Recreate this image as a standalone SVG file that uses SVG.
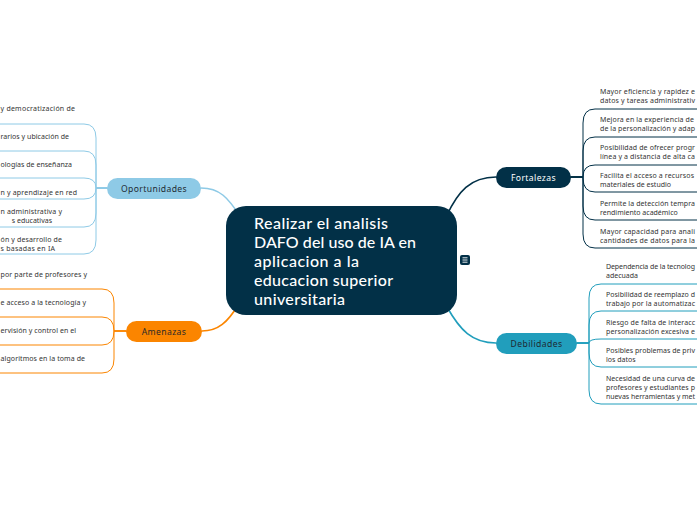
<svg xmlns="http://www.w3.org/2000/svg" width="697" height="520" viewBox="0 0 697 520">
<style>
.c{fill:none;stroke-linecap:round;stroke-linejoin:round}
.op{stroke:#8ECAE6;stroke-width:1}
.am{stroke:#FB8500;stroke-width:1}
.fo{stroke:#023047;stroke-width:1}
.de{stroke:#219EBC;stroke-width:1}
.main{stroke-width:1.6}
.t{font-family:"Noto Sans","Liberation Sans",sans-serif;font-size:7px;fill:#333333}
.lab{font-family:"Noto Sans","Liberation Sans",sans-serif;font-size:8.6px;text-anchor:middle;letter-spacing:0.4px}
.ctr{font-family:Lato,"Noto Sans",sans-serif;font-size:16px;fill:#ffffff;font-weight:500}
</style>
<rect width="697" height="520" fill="#ffffff"/>
<g id="connectors">
<path class="c op main" d="M201,188 C220,188 228,198 240,216"/>
<path class="c am main" d="M202,331 C218,331 228,322 238,305"/>
<path class="c fo main" d="M496,177 C470,177 458,192 447,215"/>
<path class="c de main" d="M496,343 C472,343 460,330 447,307"/>
<path class="c op" d="M107,188 H96 V138 Q96,124 84,124 H0"/>
<path class="c op" d="M107,188 H96 V165 Q96,151 84,151 H0"/>
<path class="c op" d="M107,188 H96 Q96,178 84,178 H0"/>
<path class="c op" d="M107,188 H96 Q96,199 84,199 H0"/>
<path class="c op" d="M107,188 H96 V213 Q96,227 84,227 H0"/>
<path class="c op" d="M107,188 H96 V240 Q96,254 84,254 H0"/>
<path class="c am" d="M126,331 H114 V303 Q114,289 102,289 H0"/>
<path class="c am" d="M126,331 H114 Q114,317 102,317 H0"/>
<path class="c am" d="M126,331 H114 Q114,345 102,345 H0"/>
<path class="c am" d="M126,331 H114 V359 Q114,373 102,373 H0"/>
<path class="c fo" d="M571,177 H583 V123 Q583,109 595,109 H697"/>
<path class="c fo" d="M571,177 H583 V151 Q583,137 595,137 H697"/>
<path class="c fo" d="M571,177 H583 Q583,165 595,165 H697"/>
<path class="c fo" d="M571,177 H583 V178 Q583,192 595,192 H697"/>
<path class="c fo" d="M571,177 H583 V206 Q583,220 595,220 H697"/>
<path class="c fo" d="M571,177 H583 V234 Q583,248 595,248 H697"/>
<path class="c de" d="M577,343 H589 V298 Q589,284 601,284 H697"/>
<path class="c de" d="M577,343 H589 V325 Q589,311 601,311 H697"/>
<path class="c de" d="M577,343 H589 Q589,339 601,339 H697"/>
<path class="c de" d="M577,343 H589 V353 Q589,367 601,367 H697"/>
<path class="c de" d="M577,343 H589 V390 Q589,404 601,404 H697"/>
</g>
<g id="center">
<rect x="226" y="206" width="231" height="109" rx="20" fill="#023047"/>
<text class="ctr" x="254" y="228.5" textLength="134" lengthAdjust="spacing">Realizar el analisis</text>
<text class="ctr" x="254" y="247.5" textLength="162" lengthAdjust="spacing">DAFO del uso de IA en</text>
<text class="ctr" x="254" y="266.5" textLength="105" lengthAdjust="spacing">aplicacion a la</text>
<text class="ctr" x="254" y="285.5" textLength="139" lengthAdjust="spacing">educacion superior</text>
<text class="ctr" x="254" y="304.5" textLength="91" lengthAdjust="spacing">universitaria</text>
</g>
<g id="note-icon">
<rect x="460" y="255" width="10" height="10" rx="2" fill="#023047"/>
<path d="M462.5,257.8 H467.5 M462.5,260 H467.5 M462.5,262.2 H467.5" stroke="#ffffff" stroke-width="0.9"/>
</g>
<g id="oportunidades">
<rect x="107" y="178" width="94" height="21" rx="10.5" fill="#8ECAE6"/>
<text class="lab" x="154" y="191.5" fill="#1e2a33">Oportunidades</text>
</g>
<g id="amenazas">
<rect x="126" y="321" width="76" height="21" rx="10.5" fill="#FB8500"/>
<text class="lab" x="164" y="334.5" fill="#2a2a2a">Amenazas</text>
</g>
<g id="fortalezas">
<rect x="496" y="167" width="75" height="21" rx="10.5" fill="#023047"/>
<text class="lab" x="533.5" y="180.5" fill="#ffffff">Fortalezas</text>
</g>
<g id="debilidades">
<rect x="496" y="333" width="81" height="21" rx="10.5" fill="#219EBC"/>
<text class="lab" x="536.5" y="346.5" fill="#1e2a33">Debilidades</text>
</g>
<g id="op-1"><text class="t" x="0.5" y="110.5" textLength="74.5" lengthAdjust="spacing">y democratización de</text></g>
<g id="op-2"><text class="t" x="0.5" y="138.5" textLength="68.5" lengthAdjust="spacing">rarios y ubicación de</text></g>
<g id="op-3"><text class="t" x="0.5" y="166.5" textLength="71.5" lengthAdjust="spacing">ologías de enseñanza</text></g>
<g id="op-4"><text class="t" x="0.5" y="194.5" textLength="76.5" lengthAdjust="spacing">n y aprendizaje en red</text></g>
<g id="op-5"><text class="t" x="0.5" y="213.5" textLength="61.5" lengthAdjust="spacing">n administrativa y</text><text class="t" x="52" y="222.5" text-anchor="end">s educativas</text></g>
<g id="op-6"><text class="t" x="0.5" y="241.5" textLength="61.5" lengthAdjust="spacing">ón y desarrollo de</text><text class="t" x="0.5" y="250.5" textLength="54.5" lengthAdjust="spacing">s basadas en IA</text></g>
<g id="am-1"><text class="t" x="0.5" y="276.5" textLength="86.5" lengthAdjust="spacing">por parte de profesores y</text></g>
<g id="am-2"><text class="t" x="0.5" y="304.5" textLength="85.5" lengthAdjust="spacing">e acceso a la tecnología y</text></g>
<g id="am-3"><text class="t" x="0.5" y="332.5" textLength="75.5" lengthAdjust="spacing">ervisión y control en el</text></g>
<g id="am-4"><text class="t" x="0.5" y="360.5" textLength="84.5" lengthAdjust="spacing">algoritmos en la toma de</text></g>
<g id="fo-1"><text class="t" x="600" y="93.5" textLength="95" lengthAdjust="spacing">Mayor eficiencia y rapidez e</text><text class="t" x="600" y="103" textLength="95" lengthAdjust="spacing">datos y tareas administrativ</text></g>
<g id="fo-2"><text class="t" x="600" y="121.5" textLength="94" lengthAdjust="spacing">Mejora en la experiencia de</text><text class="t" x="600" y="131" textLength="95" lengthAdjust="spacing">de la personalización y adap</text></g>
<g id="fo-3"><text class="t" x="600" y="149.5" textLength="95" lengthAdjust="spacing">Posibilidad de ofrecer progr</text><text class="t" x="600" y="159" textLength="95" lengthAdjust="spacing">línea y a distancia de alta ca</text></g>
<g id="fo-4"><text class="t" x="600" y="177.5" textLength="94" lengthAdjust="spacing">Facilita el acceso a recursos</text><text class="t" x="600" y="186.5">materiales de estudio</text></g>
<g id="fo-5"><text class="t" x="600" y="205.5" textLength="95" lengthAdjust="spacing">Permite la detección tempra</text><text class="t" x="600" y="214.5">rendimiento académico</text></g>
<g id="fo-6"><text class="t" x="600" y="233.5" textLength="95" lengthAdjust="spacing">Mayor capacidad para anali</text><text class="t" x="600" y="243" textLength="95" lengthAdjust="spacing">cantidades de datos para la</text></g>
<g id="de-1"><text class="t" x="606" y="269" textLength="89" lengthAdjust="spacing">Dependencia de la tecnolog</text><text class="t" x="606" y="278">adecuada</text></g>
<g id="de-2"><text class="t" x="606" y="296.5" textLength="89" lengthAdjust="spacing">Posibilidad de reemplazo d</text><text class="t" x="606" y="305.5" textLength="89" lengthAdjust="spacing">trabajo por la automatizac</text></g>
<g id="de-3"><text class="t" x="606" y="324.5" textLength="89" lengthAdjust="spacing">Riesgo de falta de interacc</text><text class="t" x="606" y="333.5" textLength="89" lengthAdjust="spacing">personalización excesiva e</text></g>
<g id="de-4"><text class="t" x="606" y="352.5" textLength="89" lengthAdjust="spacing">Posibles problemas de priv</text><text class="t" x="606" y="361.5">los datos</text></g>
<g id="de-5"><text class="t" x="606" y="380.5" textLength="89" lengthAdjust="spacing">Necesidad de una curva de</text><text class="t" x="606" y="389.5" textLength="89" lengthAdjust="spacing">profesores y estudiantes p</text><text class="t" x="606" y="398.5" textLength="89" lengthAdjust="spacing">nuevas herramientas y met</text></g>
</svg>
